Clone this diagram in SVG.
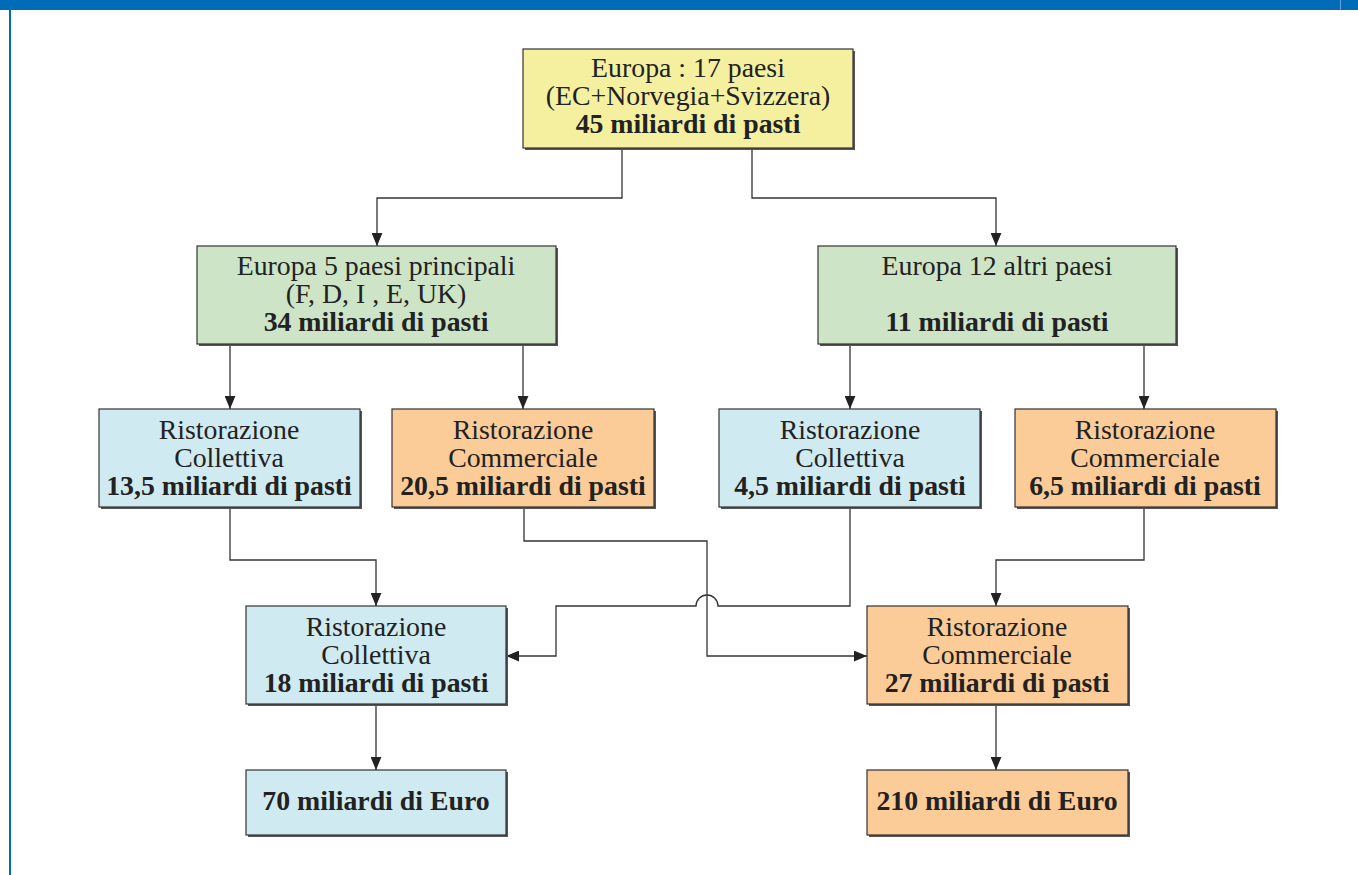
<svg xmlns="http://www.w3.org/2000/svg" width="1358" height="875" viewBox="0 0 1358 875">
<style>
.box{stroke:#333;stroke-width:1.2}
.sh{fill:#555}
.y{fill:#f4f0a0}.g{fill:#cde5c6}.b{fill:#cfeaf0}.o{fill:#fbcb98}
text{font-family:"Liberation Serif","Times New Roman",serif;font-size:27.8px;fill:#222;text-anchor:middle}
.bd{font-weight:bold}
.c{fill:none;stroke:#333;stroke-width:1.3}
</style>
<defs>
<marker id="ar" viewBox="0 0 12 10" refX="12" refY="5" markerWidth="13" markerHeight="11" markerUnits="userSpaceOnUse" orient="auto">
<path d="M0,0 L12,5 L0,10 z" fill="#222"/>
</marker>
</defs>
<rect x="0" y="0" width="1358" height="875" fill="#fff"/>
<rect x="0" y="0" width="1358" height="10" fill="#006cb8"/>
<rect x="1340" y="0" width="1" height="10" fill="#6aa6d8"/>
<rect x="9" y="10" width="2" height="865" fill="#006cb8"/>

<g id="connectors">
<path class="c" d="M622,148 V198 H377 V246" marker-end="url(#ar)"/>
<path class="c" d="M752,148 V198 H996 V246" marker-end="url(#ar)"/>
<path class="c" d="M230,344 V409" marker-end="url(#ar)"/>
<path class="c" d="M523,344 V409" marker-end="url(#ar)"/>
<path class="c" d="M850,344 V409" marker-end="url(#ar)"/>
<path class="c" d="M1144,344 V409" marker-end="url(#ar)"/>
<path class="c" d="M230,507 V560 H376 V606" marker-end="url(#ar)"/>
<path class="c" d="M1144,507 V560 H996 V606" marker-end="url(#ar)"/>
<path class="c" d="M524,507 V541 H707 V656 H867" marker-end="url(#ar)"/>
<path class="c" d="M850,507 V606 H718 A11,11 0 0 0 696,606 H556 V656 H506" marker-end="url(#ar)"/>
<path class="c" d="M376,704 V770" marker-end="url(#ar)"/>
<path class="c" d="M996,704 V770" marker-end="url(#ar)"/>
</g>

<g id="n-europa17">
<rect class="sh" x="525" y="51" width="330" height="99"/>
<rect class="box y" x="523" y="49" width="330" height="99"/>
<text x="688" y="77">Europa : 17 paesi</text>
<text x="688" y="105">(EC+Norvegia+Svizzera)</text>
<text class="bd" x="688" y="133">45 miliardi di pasti</text>
</g>

<g id="n-europa5">
<rect class="sh" x="199" y="248" width="359" height="98"/>
<rect class="box g" x="197" y="246" width="359" height="98"/>
<text x="376" y="275">Europa 5 paesi principali</text>
<text x="376" y="303">(F, D, I , E, UK)</text>
<text class="bd" x="376" y="331">34 miliardi di pasti</text>
</g>

<g id="n-europa12">
<rect class="sh" x="820" y="248" width="358" height="98"/>
<rect class="box g" x="818" y="246" width="358" height="98"/>
<text x="997" y="275">Europa 12 altri paesi</text>
<text class="bd" x="997" y="331">11 miliardi di pasti</text>
</g>

<g id="n-rc1">
<rect class="sh" x="101" y="411" width="261" height="98"/>
<rect class="box b" x="99" y="409" width="261" height="98"/>
<text x="229" y="439">Ristorazione</text>
<text x="229" y="467">Collettiva</text>
<text class="bd" x="229" y="495">13,5 miliardi di pasti</text>
</g>

<g id="n-rm1">
<rect class="sh" x="394" y="411" width="262" height="98"/>
<rect class="box o" x="392" y="409" width="262" height="98"/>
<text x="523" y="439">Ristorazione</text>
<text x="523" y="467">Commerciale</text>
<text class="bd" x="523" y="495">20,5 miliardi di pasti</text>
</g>

<g id="n-rc2">
<rect class="sh" x="721" y="411" width="261" height="98"/>
<rect class="box b" x="719" y="409" width="261" height="98"/>
<text x="850" y="439">Ristorazione</text>
<text x="850" y="467">Collettiva</text>
<text class="bd" x="850" y="495">4,5 miliardi di pasti</text>
</g>

<g id="n-rm2">
<rect class="sh" x="1017" y="411" width="261" height="98"/>
<rect class="box o" x="1015" y="409" width="261" height="98"/>
<text x="1145" y="439">Ristorazione</text>
<text x="1145" y="467">Commerciale</text>
<text class="bd" x="1145" y="495">6,5 miliardi di pasti</text>
</g>

<g id="n-rc-tot">
<rect class="sh" x="248" y="608" width="260" height="98"/>
<rect class="box b" x="246" y="606" width="260" height="98"/>
<text x="376" y="636">Ristorazione</text>
<text x="376" y="664">Collettiva</text>
<text class="bd" x="376" y="692">18 miliardi di pasti</text>
</g>

<g id="n-rm-tot">
<rect class="sh" x="869" y="608" width="261" height="98"/>
<rect class="box o" x="867" y="606" width="261" height="98"/>
<text x="997" y="636">Ristorazione</text>
<text x="997" y="664">Commerciale</text>
<text class="bd" x="997" y="692">27 miliardi di pasti</text>
</g>

<g id="n-euro70">
<rect class="sh" x="248" y="772" width="260" height="65"/>
<rect class="box b" x="246" y="770" width="260" height="65"/>
<text class="bd" x="376" y="810">70 miliardi di Euro</text>
</g>

<g id="n-euro210">
<rect class="sh" x="869" y="772" width="261" height="65"/>
<rect class="box o" x="867" y="770" width="261" height="65"/>
<text class="bd" x="997" y="810">210 miliardi di Euro</text>
</g>
</svg>
